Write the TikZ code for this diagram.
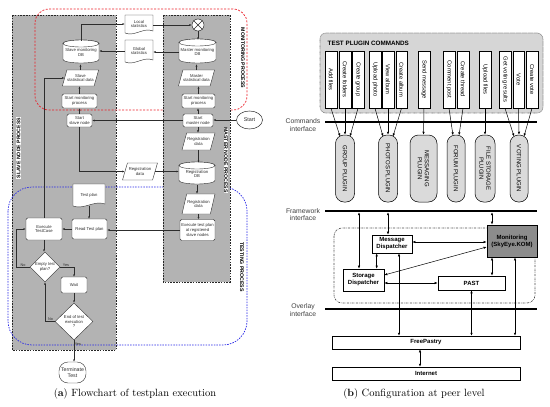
\documentclass[tikz,border=0pt]{standalone}
\usepackage{fontspec}
\newfontfamily\arialf{Liberation Sans}
\usetikzlibrary{shapes.geometric,shapes.misc,arrows.meta,calc}
\definecolor{boxgray}{RGB}{179,179,179}
\definecolor{cmdgray}{RGB}{214,214,214}
\definecolor{plugray}{RGB}{218,218,218}
\definecolor{mongray}{RGB}{140,140,140}
\definecolor{redline}{RGB}{235,30,40}
\definecolor{blueline}{RGB}{40,40,230}
\definecolor{ink}{RGB}{45,45,45}
\tikzset{
 fa/.style={font=\arialf\fontsize{4.2}{4.8}\selectfont, align=center, text=ink},
 proca/.style={fa, draw=ink, fill=white, line width=0.4pt, rounded corners=1.5pt, inner sep=0.3pt},
 paraa/.style={fa, trapezium, trapezium left angle=62, trapezium right angle=118, trapezium stretches=true, draw=ink, fill=white, line width=0.4pt, inner sep=0.3pt},
 deca/.style={fa, diamond, draw=ink, fill=white, line width=0.4pt, inner sep=0pt},
 shapel/.style={draw=ink, fill=white, line width=0.4pt},
 arra/.style={draw=ink, line width=0.45pt, -{Latex[length=2.3pt,width=1.9pt]}},
 lbla/.style={font=\arialf\fontsize{3.8}{4.2}\selectfont, text=ink, inner sep=0.6pt},
 proclbl/.style={font=\arialf\bfseries\fontsize{5.2}{6}\selectfont, inner sep=0.6pt},
 cmd/.style={font=\arialf\fontsize{5.8}{6.6}\selectfont, draw=black, fill=white, line width=0.5pt, minimum width=57, minimum height=11.5, inner sep=0, rotate=-90},
 plug/.style={font=\arialf\fontsize{6}{7}\selectfont, align=center, draw=black, fill=plugray, line width=0.5pt, rounded corners=8.5, minimum width=67, inner sep=0, rotate=-90},
 bbox/.style={font=\arialf\bfseries\fontsize{6}{7}\selectfont, align=center, draw=black, fill=white, line width=0.6pt, inner sep=0},
 ifl/.style={line width=2pt},
 ifname/.style={font=\arialf\fontsize{6.8}{7.6}\selectfont, align=center, text=black!75},
 arrb/.style={line width=0.5pt, {Latex[length=3pt,width=2.4pt]}-{Latex[length=3pt,width=2.4pt]}},
 arrc/.style={line width=0.5pt, -{Latex[length=3pt,width=2.4pt]}},
}
\newcommand\docnode[6]{%
  \pgfmathsetmacro\dA{#2-#4/2}\pgfmathsetmacro\dB{#2+#4/2}%
  \pgfmathsetmacro\dT{#3-#5/2}\pgfmathsetmacro\dD{#3+#5/2}%
  \pgfmathsetmacro\dCa{#2+#4*0.15}\pgfmathsetmacro\dCb{#2-#4*0.15}%
  \draw[shapel] (\dA,\dT) -- (\dB,\dT) -- (\dB,\dD-2) .. controls (\dCa,\dD-6) and (\dCb,\dD+4) .. (\dA,\dD) -- cycle;
  \node[fa, inner sep=0, minimum width=#4, minimum height=#5] (#1) at (#2,#3) {#6};}
\newcommand\cylnode[6]{%
  \pgfmathsetmacro\cA{#2-#4/2}\pgfmathsetmacro\cB{#2+#4/2}%
  \pgfmathsetmacro\cT{#3-#5/2+3.5}\pgfmathsetmacro\cD{#3+#5/2-3.5}%
  \pgfmathsetmacro\cR{#4/2}%
  \draw[shapel] (\cA,\cT) -- (\cA,\cD) arc[start angle=180,end angle=0,x radius=\cR,y radius=3.5] -- (\cB,\cT) arc[start angle=0,end angle=-180,x radius=\cR,y radius=3.5] -- cycle;
  \draw[shapel] (#2,\cT) ellipse[x radius=\cR,y radius=3.5];
  \node[fa, inner sep=0, minimum width=#4, minimum height=#5] (#1) at (#2,#3+1) {#6};}
\begin{document}
\begin{tikzpicture}[x=1pt,y=-1pt]
\useasboundingbox (0,0) rectangle (550,407);
% ================= panel a =================
\path[fill=boxgray, draw=black!85, line width=0.7pt, dash pattern=on 1.6pt off 1.2pt] (12,15) rectangle (116,350);
\draw[redline, line width=0.7pt, dash pattern=on 2pt off 1.5pt, rounded corners=14] (35,9) rectangle (247,110);
\draw[blueline, line width=0.7pt, dash pattern=on 1.5pt off 1.2pt, rounded corners=24] (8,187) rectangle (247,345);
\path[fill=boxgray, draw=black!85, line width=0.7pt, dash pattern=on 1.6pt off 1.2pt] (163,15) rectangle (230,282);

\node[proclbl, rotate=90, fill=white] (lslave) at (18.5,148) {SLAVE NODE PROCESS};
\node[proclbl, rotate=-90, fill=white] (lmaster) at (226,160) {MASTER NODE PROCESS};
\node[proclbl, rotate=-90] (lmon) at (243,58) {MONITORING PROCESS};
\node[proclbl, rotate=-90] (ltest) at (242,267) {TESTING PROCESS};

% slave column
\cylnode{sdb}{81}{51.5}{36}{23}{Slave monitoring\\DB}
\node[paraa, minimum width=35, minimum height=16] (ssd) at (80.5,78) {Slave\\statistical data};
\node[proca, minimum width=35, minimum height=14] (smp) at (79.5,101) {Start monitoring\\process};
\node[proca, minimum width=25, minimum height=13] (ssn) at (79.5,120.5) {Start\\slave node};
\node[paraa, minimum width=35, minimum height=17] (srd) at (140,171.5) {Registration\\data};
\docnode{tp}{89}{195}{32}{22}{Test plan}
\node[proca, minimum width=35, minimum height=20] (rtp) at (89.5,229) {Read Test plan};
\node[proca, minimum width=36, minimum height=22] (etc) at (44,229) {Execute\\TestCase};
\node[deca, minimum width=30, minimum height=30] (etp) at (45,267) {Empty test\\plan?};
\node[proca, minimum width=26, minimum height=16] (wait) at (74,285) {Wait};
\node[deca, minimum width=38, minimum height=37] (eoe) at (74,321.5) {End of test\\execution\\?};
\node[proca, rounded corners=9, minimum width=27, minimum height=21, font=\arialf\fontsize{5.2}{6}\selectfont] (term) at (72.5,372.5) {Terminate\\Test};
\docnode{ls}{139}{24}{28}{18}{Local\\statistics}
\docnode{gs}{139}{51}{28}{22}{Global\\statistics}

% master column
\node[draw=ink, fill=white, circle, minimum size=12, inner sep=0, line width=0.5pt] (sx) at (198,25) {};
\draw[ink, line width=0.5pt] (sx.north west) -- (sx.south east) (sx.north east) -- (sx.south west);
\cylnode{mdb}{197.5}{51}{37}{24}{Master monitoring\\DB}
\node[paraa, minimum width=33, minimum height=16] (msd) at (196.5,78) {Master\\statistical data};
\node[proca, minimum width=33, minimum height=14] (mmp) at (198.5,101) {Start monitoring\\process};
\node[proca, minimum width=30, minimum height=13] (smn) at (198,120.5) {Start\\master node};
\node[fa, ellipse, draw=ink, fill=white, line width=0.5pt, minimum width=26, minimum height=18, inner sep=0, font=\arialf\fontsize{5.4}{6}\selectfont] (start) at (249.5,120) {Start};
\node[paraa, minimum width=33, minimum height=17] (mrd1) at (198.5,141.5) {Registration\\data};
\cylnode{rdb}{197}{173}{36}{22}{Registration\\DB}
\node[paraa, minimum width=33, minimum height=20] (mrd2) at (198.5,204) {Registration\\data};
\node[proca, minimum width=35, minimum height=21] (etp2) at (197.5,230) {Execute test plan\\at registered\\slave nodes};

% edges a
\draw[arra] (sx.west -| ls.east) -- (sx.west);
\draw[arra] (sx.south) -- (sx.south |- mdb.north);
\draw[arra] (mdb.west) -- (mdb.west -| gs.east);
\draw[arra] (msd.north) -- (msd.north |- mdb.south);
\draw[arra] (mmp.north) -- (mmp.north |- msd.south);
\draw[arra] (smn.north) -- (smn.north |- mmp.south);
\draw[arra] (start.west) -- (start.west -| smn.east);
\draw[arra] (smn.west) -- (smn.west -| ssn.east);
\draw[arra] (smn.south) -- (smn.south |- mrd1.north);
\draw[arra] (mrd1.south) -- (mrd1.south |- rdb.north);
\draw[arra] (rdb.south) -- (rdb.south |- mrd2.north);
\draw[arra] (mrd2.south) -- (mrd2.south |- etp2.north);
\draw[arra] (etp2.west) -- (etp2.west -| rtp.east);
\draw[arra] (ssn.north) -- (ssn.north |- smp.south);
\draw[arra] (smp.north) -- (smp.north |- ssd.south);
\draw[arra] (ssd.north) -- (ssd.north |- sdb.south);
\draw[arra] (sdb.north) |- (ls.west);
\draw[arra] (gs.west) -- (gs.west -| sdb.east);
\draw[arra] (ssn.south) |- (srd.west);
\draw[arra] (srd.east) -- (srd.east -| rdb.west);
\draw[arra] (tp.south) -- (tp.south |- rtp.north);
\draw[arra] (rtp.west) -- (etc.east);
\draw[arra] (etc.south) -- (etc.south |- etp.north);
\draw[arra] (etc.north) |- (ssd.west);
\draw[arra] (etp.west) -- ++(-14,0) |- (etc.west);
\node[lbla, above] (lno1) at (23,267) {No};
\draw[arra] (etp.east) -| (wait.north);
\node[lbla, above] (lyes1) at (66,267) {Yes};
\draw[arra] (wait.south) -- (eoe.north);
\draw[arra] (eoe.west) -| (etp.south);
\node[lbla, above] (lno2) at (50.5,321.5) {No};
\draw[arra] (eoe.south) -- (eoe.south |- term.north);
\node[lbla, right] (lyes2) at (74,344) {Yes};

% ================= panel b =================
\draw[draw=black!55, fill=cmdgray, line width=0.6pt, dash pattern=on 0.6pt off 0.6pt, rounded corners=6] (320,33) rectangle (543,113);
\node[font=\arialf\bfseries\fontsize{6.3}{7}\selectfont, anchor=west, inner sep=0] (tpc) at (327.5,43) {TEST PLUGIN COMMANDS};
\foreach \n/\x/\t in {c1/331/Add files, c2/345/Create folders, c3/358/Create group, c4/375/Upload photo, c5/388/View album, c6/401.5/Create album, c7/424/Send message, c8/449/Comment post, c9/463/Create thread, c10/485/Upload files, c11/505/Get voting results, c12/518.5/Vote, c13/532/Create vote}
  \node[cmd] (\n) at (\x,79.5) {\t};

\coordinate (ciL) at (325,122); \coordinate (ciR) at (537,122);
\draw[ifl] (ciL) -- (ciR);
\node[ifname] (cil) at (303,125) {Commands\\interface};

\node[plug, minimum height=19] (pg) at (345,168.5) {GROUP PLUGIN};
\node[plug, minimum height=19] (pp) at (388,168.5) {PHOTOS PLUGIN};
\node[plug, minimum height=27] (pm) at (423.5,168.5) {MESSAGING\\PLUGIN};
\node[plug, minimum height=18] (pf) at (456,168.5) {FORUM PLUGIN};
\node[plug, minimum height=20] (ps) at (485,168.5) {FILE STORAGE\\PLUGIN};
\node[plug, minimum height=18] (pv) at (519,168.5) {VOTING PLUGIN};

\draw[arrc] (c1.east) -- ($(pg.west)+(-5,1.6)$);
\draw[arrc] (c2.east) -- (pg.west);
\draw[arrc] (c3.east) -- ($(pg.west)+(5,1.6)$);
\draw[arrc] (c4.east) -- ($(pp.west)+(-5,1.6)$);
\draw[arrc] (c5.east) -- (pp.west);
\draw[arrc] (c6.east) -- ($(pp.west)+(5,1.6)$);
\draw[arrc] (c7.east) -- (pm.west);
\draw[arrc] (c8.east) -- ($(pf.west)+(-3,0.6)$);
\draw[arrc] (c9.east) -- ($(pf.west)+(3,0.6)$);
\draw[arrc] (c10.east) -- (ps.west);
\draw[arrc] (c11.east) -- ($(pv.west)+(-5,1.6)$);
\draw[arrc] (c12.east) -- (pv.west);
\draw[arrc] (c13.east) -- ($(pv.west)+(5,1.6)$);

\coordinate (fwL) at (325,211); \coordinate (fwR) at (537,211);
\coordinate (fwE) at (325,212.2);
\draw[ifl] (fwL) -- (fwR);
\node[ifname] (fwl) at (303,214.5) {Framework\\interface};

\draw[black!70, line width=0.6pt, dash pattern=on 2pt off 1pt on 0.5pt off 1pt, rounded corners=8] (334,228) rectangle (535,303);

\node[bbox, minimum width=40, minimum height=18] (md) at (392,244) {Message\\Dispatcher};
\node[bbox, fill=mongray, line width=0.8pt, minimum width=50, minimum height=32] (mon) at (512,241) {Monitoring\\(SkyEye.KOM)};
\node[bbox, minimum width=41, minimum height=22] (sd) at (363.5,280) {Storage\\Dispatcher};
\node[bbox, minimum width=67, minimum height=14] (past) at (471.5,283) {PAST};

\coordinate (ovL) at (325,309); \coordinate (ovR) at (537,309);
\draw[ifl] (ovL) -- (ovR);
\node[ifname] (ovl) at (303,310) {Overlay\\interface};

\node[bbox, line width=0.5pt, minimum width=188, minimum height=13] (fp) at (426,342.5) {FreePastry};
\node[bbox, line width=0.5pt, minimum width=188, minimum height=13] (inet) at (426,373.5) {Internet};

\coordinate (a1) at ($(sd.north)+(-4.5,0)$);
\draw[arrb] (a1 |- fwE) -- (a1);
\coordinate (a2) at ($(md.north)+(-4,0)$);
\draw[arrb] (a2 |- fwE) -- (a2);
\coordinate (a3) at ($(md.south west)+(5,0)$);
\draw[arrb] (a3) -- (a3 |- sd.north);
\draw[arrb] ($(md.east)+(0,-2)$) -- ($(mon.west)+(0,1)$);
\draw[arrb] ($(sd.east)+(0,-5)$) -- ($(mon.west)+(0,6)$);
\draw[arrb] ($(sd.east)+(0,3)$) -- (past.west);
\coordinate (a4) at ($(mon.south)+(-20,0)$);
\draw[arrb] (a4) -- (a4 |- past.north);
\coordinate (a5) at ($(mon.south)+(3,0)$);
\draw[arrb] (a5) -- (a5 |- fp.north);
\coordinate (a6) at ($(mon.north)+(-20,0)$);
\draw[arrb] (a6 |- fwE) -- (a6);
\coordinate (a7) at ($(md.south)+(7,0)$);
\draw[arrb] (a7) -- (a7 |- fp.north);
\draw[arrb] (past.south) -- (past.south |- fp.north);
\coordinate (a8) at ($(fp.south)+(-6,0)$);
\draw[arrb] (a8) -- (a8 |- inet.north);

% captions
\node[font=\fontsize{10.5}{12}\selectfont] (capa) at (135,394) {(\textbf{a}) Flowchart of testplan execution};
\node[font=\fontsize{10.5}{12}\selectfont] (capb) at (414,394) {(\textbf{b}) Configuration at peer level};
\end{tikzpicture}
\end{document}
